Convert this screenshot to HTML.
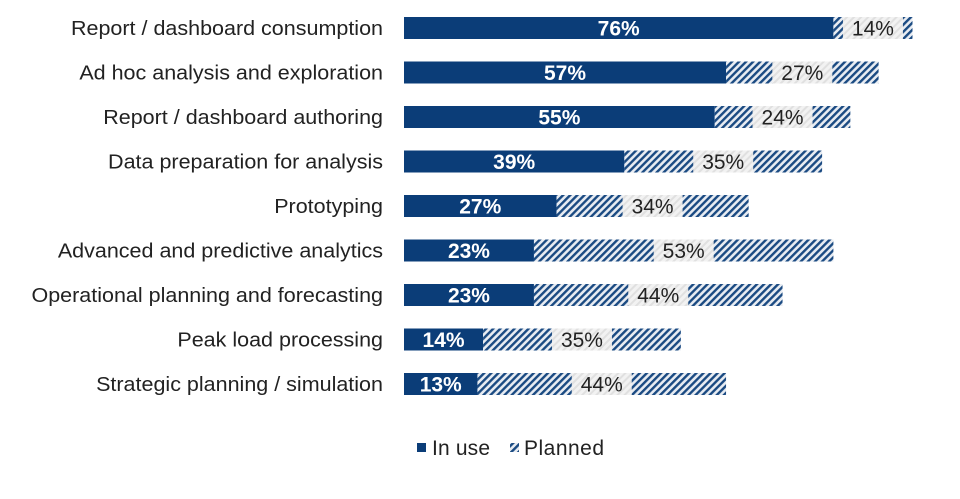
<!DOCTYPE html>
<html><head><meta charset="utf-8"><style>
body{margin:0;background:#fff;width:960px;height:494px;overflow:hidden}
text{font-family:"Liberation Sans",Arial,sans-serif}
</style></head><body>
<svg id="chart" width="960" height="494">
<defs>
<pattern id="hatch" patternUnits="userSpaceOnUse" width="5" height="5" patternTransform="rotate(45)">
<rect width="5" height="5" fill="#e8ecf2"/>
<rect width="2.4" height="5" fill="#1a4a82"/>
</pattern>
<pattern id="hatchLight" patternUnits="userSpaceOnUse" width="5" height="5" patternTransform="rotate(45)">
<rect width="5" height="5" fill="#f2f2f2"/>
<rect width="2" height="5" fill="#e0e0e0"/>
</pattern>
</defs>
<g id="rows"></g>
<g>
<rect x="417" y="443" width="9" height="9" fill="#0b3d78"/>
<text x="432" y="455" font-size="21" fill="#222" textLength="58">In use</text>
<rect x="510" y="443" width="9" height="9" fill="url(#hatch)"/>
<text x="524" y="455" font-size="21" fill="#222" textLength="80">Planned</text>
</g>
</svg>
<script>
const categories=["Report / dashboard consumption","Ad hoc analysis and exploration","Report / dashboard authoring","Data preparation for analysis","Prototyping","Advanced and predictive analytics","Operational planning and forecasting","Peak load processing","Strategic planning / simulation"];
const inUse=[76,57,55,39,27,23,23,14,13];
const planned=[14,27,24,35,34,53,44,35,44];
const x0=404, pxPer=5.65, y0=28, step=44.5, bh=22;
const xs=v=>x0+v*pxPer;
const ys=i=>y0+i*step;
const NS="http://www.w3.org/2000/svg";
const g=document.getElementById('rows');
function mk(tag,attrs,parent){const e=document.createElementNS(NS,tag);for(const k in attrs)e.setAttribute(k,attrs[k]);parent.appendChild(e);return e;}
categories.forEach((c,i)=>{
  const cy=ys(i);
  const lab=mk('text',{x:383,y:cy+7,'font-size':20.5,fill:'#222','text-anchor':'end','transform':'translate(383 0) scale(1.05 1) translate(-383 0)'},g);
  lab.textContent=c;
  
  
  const b1=mk('rect',{x:x0,y:cy-bh/2,width:xs(inUse[i])-x0,height:bh,fill:'#0b3d78'},g);
  
  
  const px=xs(inUse[i]), pw=xs(inUse[i]+planned[i])-px;
  const b2=mk('rect',{x:px,y:cy-bh/2,width:pw,height:bh,fill:'url(#hatch)'},g);
  
  
  const mid=px+pw/2;
  const bg=mk('rect',{x:mid-30,y:cy-bh/2,width:60,height:bh,fill:'url(#hatchLight)'},g);
  
  
  const t2=mk('text',{x:mid,y:cy+7.5,'font-size':21,fill:'#222','text-anchor':'middle'},g);
  t2.textContent=planned[i]+'%';
  
  
  const t1=mk('text',{x:(x0+xs(inUse[i]))/2,y:cy+7.5,'font-size':21,fill:'#fff','font-weight':'bold','text-anchor':'middle'},g);
  t1.textContent=inUse[i]+'%';
  
  
});
</script>
</body></html>
